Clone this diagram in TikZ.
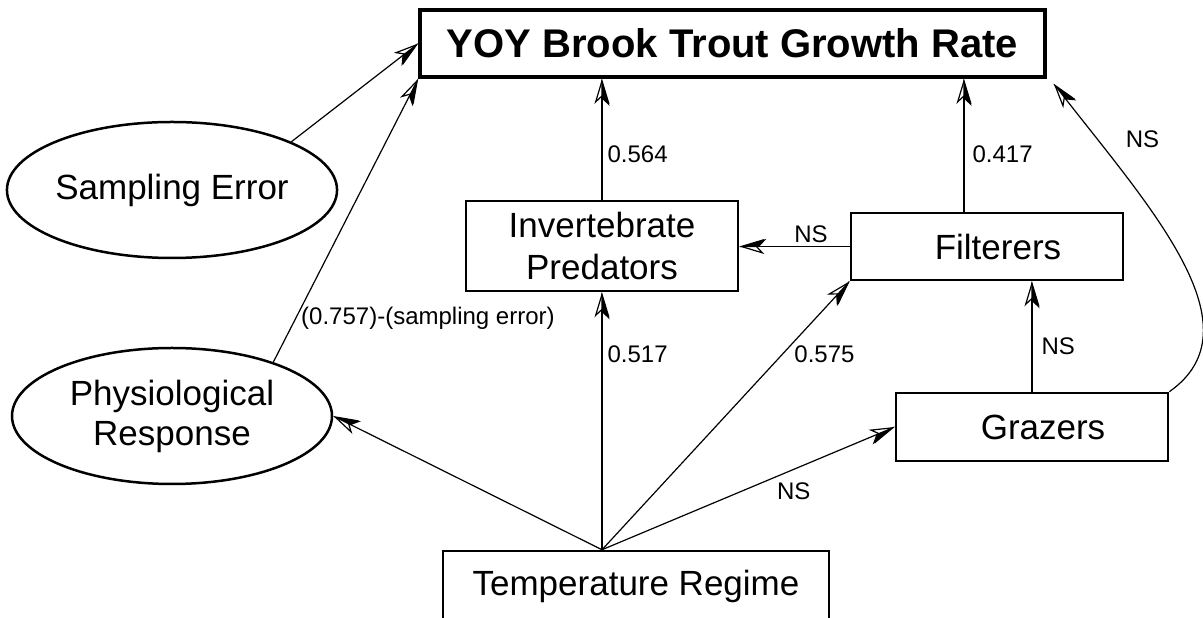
\documentclass[tikz,border=0pt]{standalone}
\usepackage{fontspec}
\setmainfont{Liberation Sans}
\usetikzlibrary{arrows.meta, shapes.geometric, positioning}

\tikzset{
  box/.style={draw, rectangle, line width=2.5pt, inner sep=0pt, align=center,
    font=\fontsize{35}{42}\selectfont},
  oval/.style={draw, ellipse, line width=2.5pt, inner sep=0pt, align=center,
    minimum width=320pt, minimum height=136pt, font=\fontsize{35}{40}\selectfont},
  lbl/.style={font=\fontsize{24}{26}\selectfont, inner sep=5pt},
  link/.style={line width=1.2pt,
    -{Stealth[harpoon,swap,length=25pt,width=15pt,inset=7pt,sep=-25pt]
      Stealth[open,length=25pt,width=15pt,inset=7pt]}}
}

\begin{document}
\begin{tikzpicture}[x=1pt, y=1pt]
\useasboundingbox (0,0) rectangle (1203,618);

\node[box, line width=3.5pt, minimum width=625pt, minimum height=67pt,
  font=\bfseries\fontsize{40}{44}\selectfont] (title) at (732.5,574.5) {YOY Brook Trout Growth Rate};
\node[oval] (sampling) at (172,428) {Sampling Error};
\node[oval] (physio) at (172,202) {Physiological\\Response};
\node[box, minimum width=272pt, minimum height=90pt] (invert) at (602,372) {Invertebrate\\Predators};
\node[box, minimum width=272pt, minimum height=67pt] (filt) at (987,371.5) {\hspace*{22pt}Filterers};
\node[box, minimum width=272pt, minimum height=68pt] (grazers) at (1032,191) {\hspace*{22pt}Grazers};
\node[box, minimum width=386pt, minimum height=70pt] (temp) at (636,32) {Temperature Regime};
\coordinate (src) at ([xshift=-34pt]temp.north);

% into the growth rate
\draw[link] (sampling.22) -- (title.west);
\draw[link] (physio.28) -- node[lbl, pos=.154, anchor=west] {(0.757)-(sampling error)} (title.south west);
\draw[link] (invert.north) -- node[lbl, pos=.38, anchor=west] {0.564} (invert.north |- title.south);
\draw[link] ([xshift=-23pt]filt.north) -- node[lbl, pos=.43, anchor=west, xshift=3pt] {0.417}
  ([xshift=-23pt]filt.north |- title.south);
\draw[link] (grazers.north east) .. controls +(35:110) and +(-52:160) ..
  node[lbl, pos=.8, anchor=south west, xshift=8pt, yshift=5pt] {NS}
  ([xshift=7pt, yshift=-5pt]title.south east);

% between the invertebrates
\draw[link] (filt.west) -- node[lbl, pos=.35, above, inner sep=3pt] {NS} (filt.west -| invert.east);
\draw[link] (grazers.north) -- node[lbl, pos=.41, anchor=west, xshift=4pt] {NS} (grazers.north |- filt.south);

% from the temperature regime
\draw[link] (src) -- (physio.east);
\draw[link] (src) -- node[lbl, pos=.76, anchor=west] {0.517} (src |- invert.south);
\draw[link] (src) -- node[lbl, pos=.73, anchor=west, xshift=6pt] {0.575} (filt.south west);
\draw[link] (src) -- node[lbl, pos=.655, below=8pt] {NS} (grazers.west);
\end{tikzpicture}
\end{document}
